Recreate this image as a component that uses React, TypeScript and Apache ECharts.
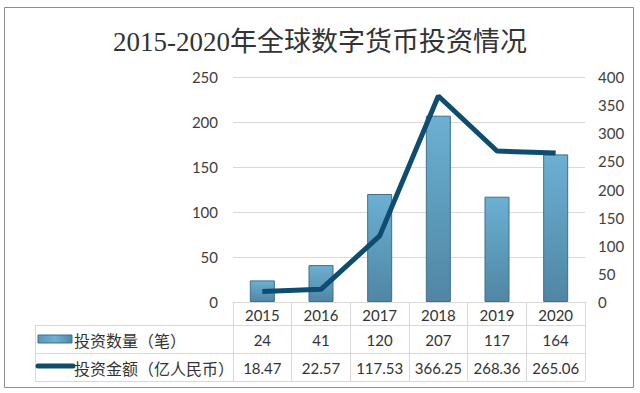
import React, { useEffect, useRef } from "react";
import * as echarts from "echarts";

const categories = ["2015", "2016", "2017", "2018", "2019", "2020"];
const countValues = [24, 41, 120, 207, 117, 164];
const amountValues = [18.47, 22.57, 117.53, 366.25, 268.36, 265.06];
const countLabels = ["24", "41", "120", "207", "117", "164"];
const amountLabels = ["18.47", "22.57", "117.53", "366.25", "268.36", "265.06"];
const countName = "投资数量（笔）";
const amountName = "投资金额（亿人民币）";
const titleText = "2015-2020年全球数字货币投资情况";

const W = 640;
const H = 393;
const GL = 233;
const GR = 585;
const GT = 77;
const GB = 302;
const ROW1 = 325;
const ROW2 = 353;
const ROW3 = 381;
const TABLE_LEFT = 35;

export default function App() {
  const ref = useRef<HTMLDivElement>(null);
  useEffect(() => {
    if (!ref.current) return;
    const chart = echarts.init(ref.current, null, { renderer: "svg" });
    const colW = (GR - GL) / categories.length;
    const gridColor = "#d9d9d9";
    const textFont = "Lato, 'Noto Sans CJK SC', sans-serif";
    const graphics: any[] = [];
    graphics.push({
      type: "rect",
      shape: { x: 4.5, y: 7.5, width: 629, height: 380 },
      style: { fill: "none", stroke: "#8c8c8c", lineWidth: 1 },
      z: 1,
    });
    [ROW1, ROW2, ROW3].forEach((y) => {
      graphics.push({
        type: "line",
        shape: { x1: TABLE_LEFT, y1: y + 0.5, x2: GR, y2: y + 0.5 },
        style: { stroke: gridColor, lineWidth: 1 },
      });
    });
    graphics.push({
      type: "line",
      shape: { x1: TABLE_LEFT + 0.5, y1: ROW1, x2: TABLE_LEFT + 0.5, y2: ROW3 },
      style: { stroke: gridColor, lineWidth: 1 },
    });
    graphics.push({
      type: "rect",
      shape: { x: 38, y: 335, width: 34, height: 8 },
      style: {
        fill: new echarts.graphic.LinearGradient(0, 0, 1, 0, [
          { offset: 0, color: "#5a98bd" },
          { offset: 0.5, color: "#6fb0d2" },
          { offset: 1, color: "#4f88a8" },
        ]),
        stroke: "#3f6f8c",
        lineWidth: 1,
      },
    });
    graphics.push({
      type: "line",
      shape: { x1: 38, y1: 366, x2: 73, y2: 366 },
      style: { stroke: "#0f4d70", lineWidth: 5, lineCap: "round" },
    });
    graphics.push({
      type: "text",
      x: 74,
      y: (ROW1 + ROW2) / 2 + 1,
      style: { text: countName, fill: "#333", font: "16px 'Noto Sans CJK SC', sans-serif", textVerticalAlign: "middle" },
    });
    graphics.push({
      type: "text",
      x: 74,
      y: (ROW2 + ROW3) / 2 + 1,
      style: { text: amountName, fill: "#333", font: "16px 'Noto Sans CJK SC', sans-serif", textVerticalAlign: "middle" },
    });
    categories.forEach((_, i) => {
      const cx = GL + colW * (i + 0.5);
      graphics.push({
        type: "text",
        x: cx,
        y: (ROW1 + ROW2) / 2 + 1,
        style: { text: countLabels[i], fill: "#333", font: "15px " + textFont, textAlign: "center", textVerticalAlign: "middle" },
      });
      graphics.push({
        type: "text",
        x: cx,
        y: (ROW2 + ROW3) / 2 + 1,
        style: { text: amountLabels[i], fill: "#333", font: "15px " + textFont, textAlign: "center", textVerticalAlign: "middle" },
      });
    });

    chart.setOption({
      animation: false,
      backgroundColor: "#ffffff",
      title: {
        text: titleText,
        left: "center",
        top: 23,
        textStyle: {
          fontFamily: "'Liberation Serif', 'DejaVu Serif', 'Noto Sans CJK SC', serif",
          fontSize: 27,
          fontWeight: "normal",
          color: "#333333",
        },
      },
      grid: { left: GL, right: W - GR, top: GT, bottom: H - GB, containLabel: false },
      xAxis: {
        type: "category",
        data: categories,
        boundaryGap: true,
        axisLine: { show: true, lineStyle: { color: gridColor, width: 1 } },
        axisTick: { show: true, length: ROW3 - GB, lineStyle: { color: gridColor, width: 1 } },
        axisLabel: { color: "#333", fontSize: 15, fontFamily: textFont, margin: 5 },
      },
      yAxis: [
        {
          type: "value",
          min: 0,
          max: 250,
          interval: 50,
          axisLine: { show: false },
          axisTick: { show: false },
          axisLabel: { color: "#404040", fontSize: 15, fontFamily: textFont, margin: 15 },
          splitLine: { show: true, lineStyle: { color: gridColor, width: 1 } },
        },
        {
          type: "value",
          min: 0,
          max: 400,
          interval: 50,
          axisLine: { show: false },
          axisTick: { show: false },
          axisLabel: { color: "#404040", fontSize: 15, fontFamily: textFont, margin: 13 },
          splitLine: { show: false },
        },
      ],
      series: [
        {
          name: countName,
          type: "bar",
          yAxisIndex: 0,
          data: countValues,
          barWidth: 25,
          itemStyle: {
            color: new echarts.graphic.LinearGradient(0, 0, 0, 1, [
              { offset: 0, color: "#6cb0d3" },
              { offset: 1, color: "#4f86a3" },
            ]),
            borderColor: "#3f6f8c",
            borderWidth: 1,
          },
        },
        {
          name: amountName,
          type: "line",
          yAxisIndex: 1,
          data: amountValues,
          symbol: "none",
          lineStyle: { color: "#0f4d70", width: 5 },
          z: 5,
        },
      ],
      graphic: graphics,
    });
    return () => chart.dispose();
  }, []);
  return <div ref={ref} style={{ width: W, height: H, position: "absolute", left: 0, top: 0 }} />;
}
